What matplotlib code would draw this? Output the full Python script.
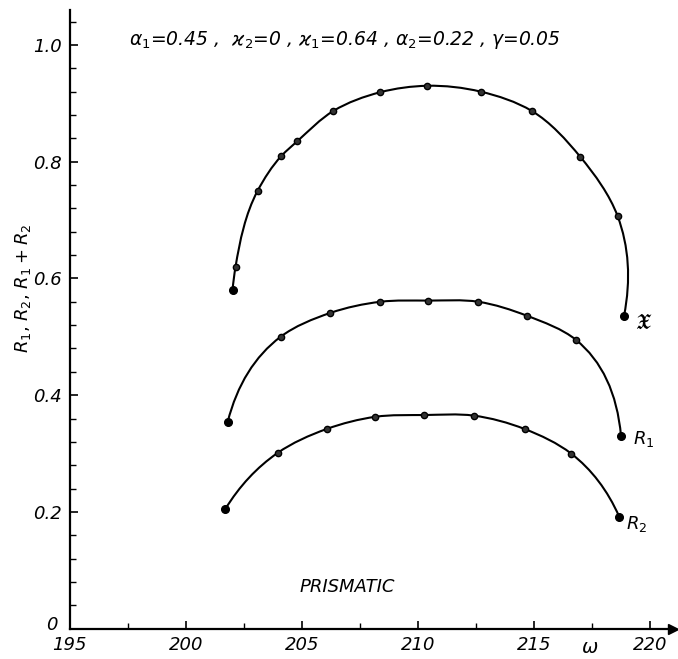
import numpy as np
import matplotlib
matplotlib.use("Agg")
import matplotlib.pyplot as plt
import matplotlib.transforms as mtransforms
from matplotlib.path import Path
from matplotlib.patches import PathPatch
from matplotlib.ticker import MultipleLocator

# omega, reflection values
w_sum = [202.01, 202.14, 203.09, 204.12, 204.8, 206.36, 208.38, 210.4, 212.7, 214.9, 217.0, 218.6, 218.88]
r_sum = [0.58, 0.62, 0.75, 0.81, 0.835, 0.887, 0.919, 0.93, 0.92, 0.887, 0.808, 0.707, 0.536]

w_r1 = [201.8, 204.08, 206.23, 208.38, 210.45, 212.6, 214.7, 216.8, 218.75]
r_r1 = [0.354, 0.50, 0.541, 0.56, 0.562, 0.56, 0.536, 0.495, 0.33]

w_r2 = [201.7, 203.95, 206.06, 208.17, 210.28, 212.4, 214.6, 216.6, 218.67]
r_r2 = [0.205, 0.301, 0.342, 0.363, 0.366, 0.365, 0.342, 0.30, 0.192]

x_ticks = [195, 200, 205, 210, 215, 220]
y_ticks = [0, 0.2, 0.4, 0.6, 0.8, 1.0]
y_tick_labels = ["0", "0.2", "0.4", "0.6", "0.8", "1.0"]

plt.rcParams['font.family'] = 'DejaVu Sans'
plt.rcParams['mathtext.fontset'] = 'dejavusans'

fig = plt.figure(figsize=(6.78, 6.59), dpi=100)
ax = fig.add_axes([0.103, 0.046, 0.89, 0.939])


def smooth_path(xs, ys):
    # cubic Bezier through the points, tangents from parabolas over
    # neighbouring points (chord-length parametrisation)
    sx, sy = 23.2, 584.0  # roughly pixels per data unit
    p = np.column_stack([xs, ys]) * [sx, sy]
    n = len(p)
    h = np.linalg.norm(np.diff(p, axis=0), axis=1)
    m = np.zeros_like(p)
    for i in range(1, n - 1):
        a, b = h[i - 1], h[i]
        m[i] = (-b / (a * (a + b)) * p[i - 1] + (b - a) / (a * b) * p[i]
                + a / (b * (a + b)) * p[i + 1])
    a, b = h[0], h[1]
    m[0] = (-(2 * a + b) / (a * (a + b)) * p[0] + (a + b) / (a * b) * p[1]
            - a / (b * (a + b)) * p[2])
    a, b = h[-1], h[-2]
    m[-1] = ((2 * a + b) / (a * (a + b)) * p[-1] - (a + b) / (a * b) * p[-2]
             + a / (b * (a + b)) * p[-3])
    verts = [p[0]]
    codes = [Path.MOVETO]
    for i in range(n - 1):
        verts += [p[i] + m[i] * h[i] / 3, p[i + 1] - m[i + 1] * h[i] / 3, p[i + 1]]
        codes += [Path.CURVE4] * 3
    verts = np.array(verts) / [sx, sy]
    return Path(verts, codes)


for xs, ys in [(w_sum, r_sum), (w_r1, r_r1), (w_r2, r_r2)]:
    ax.add_patch(PathPatch(smooth_path(xs, ys), facecolor='none',
                           edgecolor='black', lw=1.5))
    ax.plot(xs, ys, 'o', color='black', ms=4.5, mfc='#333333', mew=1.0)
    ax.plot([xs[0], xs[-1]], [ys[0], ys[-1]], 'o', color='black', ms=5.5)

ax.set_xlim(195, 221)
ax.set_ylim(0, 1.06)

for s in ['top', 'right']:
    ax.spines[s].set_visible(False)
for s in ['left', 'bottom']:
    ax.spines[s].set_linewidth(1.6)

ax.plot(1, 0, '>k', ms=7, transform=ax.get_yaxis_transform(), clip_on=False)
ax.plot(0, 1, '^k', ms=7, transform=ax.get_xaxis_transform(), clip_on=False)

ax.set_xticks(x_ticks)
ax.set_xticklabels([str(t) for t in x_ticks], style='italic', fontsize=13)
ax.set_yticks(y_ticks)
ax.set_yticklabels(y_tick_labels, style='italic', fontsize=13)
ax.xaxis.set_minor_locator(MultipleLocator(2.5))
ax.yaxis.set_minor_locator(MultipleLocator(0.04))
ax.tick_params(which='major', direction='in', length=6, width=1.2)
ax.tick_params(which='minor', direction='in', length=4, width=1.0)
ax.tick_params(axis='x', pad=5)
ax.tick_params(axis='y', pad=6)

# lift the "0" a little so it clears the 195 below it
zero = ax.get_yticklabels()[0]
zero.set_transform(zero.get_transform() +
                   mtransforms.ScaledTranslation(-3 / 72, 4 / 72, fig.dpi_scale_trans))

ax.text(-0.078, 0.55, r"$R_1$, $R_2$, $R_1+R_2$", transform=ax.transAxes,
        rotation=90, fontsize=13, ha='center', va='center')
ax.text(217.4, -0.033, r"$\omega$", fontsize=14, ha='center', va='center',
        clip_on=False)

ax.text(206.85, 1.009,
        r"$\alpha_1$=0.45 ,  $\varkappa_2$=0 , $\varkappa_1$=0.64 , "
        r"$\alpha_2$=0.22 , $\gamma$=0.05",
        fontsize=13.5, style='italic', ha='center', va='center')

ax.text(206.95, 0.072, "PRISMATIC", fontsize=13, style='italic',
        ha='center', va='center')

ax.text(219.35, r_sum[-1] - 0.012, r"$\mathfrak{X}$", fontsize=15, va='center')
ax.text(219.25, r_r1[-1] - 0.005, r"$R_1$", fontsize=13, va='center')
ax.text(218.95, r_r2[-1] - 0.012, r"$R_2$", fontsize=13, va='center')

fig.savefig("out.png", dpi=100)
